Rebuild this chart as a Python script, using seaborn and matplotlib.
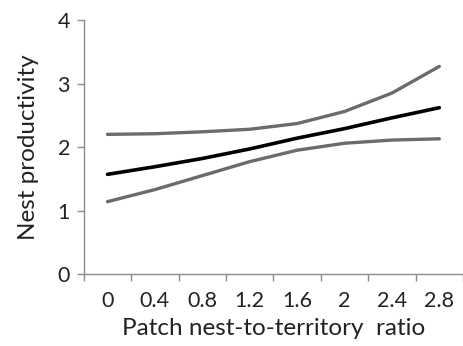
import numpy as np
import pandas as pd
import matplotlib
matplotlib.use("Agg")
import matplotlib.pyplot as plt
import seaborn as sns

ratio_labels = ["0", "0.4", "0.8", "1.2", "1.6", "2", "2.4", "2.8"]
predicted = [1.57, 1.69, 1.82, 1.97, 2.14, 2.29, 2.46, 2.62]
upper_ci = [2.20, 2.21, 2.24, 2.28, 2.37, 2.56, 2.85, 3.27]
lower_ci = [1.14, 1.33, 1.55, 1.77, 1.95, 2.06, 2.11, 2.13]

sns.set_theme(style="ticks")
plt.rcParams["font.family"] = ["Lato", "DejaVu Sans"]
plt.rcParams["text.color"] = "#222222"
plt.rcParams["axes.labelcolor"] = "#222222"
plt.rcParams["xtick.labelcolor"] = "#222222"
plt.rcParams["ytick.labelcolor"] = "#222222"

pos = np.arange(len(ratio_labels))
df = pd.DataFrame({"pos": pos, "predicted": predicted,
                   "upper": upper_ci, "lower": lower_ci})

fig = plt.figure(figsize=(4.63, 3.46), dpi=100)
ax = fig.add_axes([0.181, 0.208, 0.819, 0.734])

sns.lineplot(data=df, x="pos", y="upper", ax=ax, color="#6b6b6b", lw=2.4)
sns.lineplot(data=df, x="pos", y="lower", ax=ax, color="#6b6b6b", lw=2.4)
sns.lineplot(data=df, x="pos", y="predicted", ax=ax, color="black", lw=2.6)

ax.set_xlim(-0.5, len(ratio_labels) - 0.5)
ax.set_ylim(0, 4)
ax.set_yticks([0, 1, 2, 3, 4])
ax.set_xticks(pos)
ax.set_xticklabels(ratio_labels)
ax.set_xticks(np.arange(len(ratio_labels) + 1) - 0.5, minor=True)
ax.tick_params(axis="x", which="major", length=0, pad=12, labelsize=15.5)
ax.tick_params(axis="x", which="minor", length=5, color="#8c8c8c", width=1)
ax.tick_params(axis="y", length=5, color="#8c8c8c", width=1, labelsize=15.5, pad=5)

for s in ["top", "right"]:
    ax.spines[s].set_visible(False)
for s in ["left", "bottom"]:
    ax.spines[s].set_color("#8c8c8c")
    ax.spines[s].set_linewidth(1)

ax.set_xlabel("Patch nest-to-territory  ratio", fontsize=17.5, labelpad=5)
ax.set_ylabel("Nest productivity", fontsize=17.5, labelpad=13)

fig.savefig("out.png", dpi=100)
